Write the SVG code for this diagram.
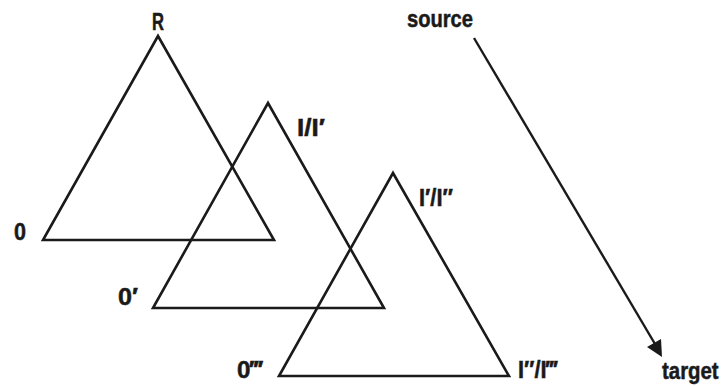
<svg xmlns="http://www.w3.org/2000/svg" width="727" height="386" viewBox="0 0 727 386">
<style>
.tri{fill:none;stroke:#1a1a1a;stroke-width:2.6;stroke-linejoin:miter}
.lbl{font-family:"Liberation Sans Narrow","Liberation Sans",Arial,sans-serif;font-weight:bold;font-size:24px;fill:#1a1a1a;stroke:#1a1a1a;stroke-width:0.5}
.conn{stroke:#1a1a1a;stroke-width:2.4;fill:none}
.head{fill:#1a1a1a}
</style>
<rect width="727" height="386" fill="#ffffff"/>
<g id="triangle1">
<polygon class="tri" points="158,36 43,240 274,240"/>
<text class="lbl" x="152" y="30" textLength="12" lengthAdjust="spacingAndGlyphs">R</text>
<text class="lbl" x="14" y="240" textLength="12" lengthAdjust="spacingAndGlyphs">0</text>
</g>
<g id="triangle2">
<polygon class="tri" points="268,103 153,308 384,308"/>
<text class="lbl" x="297" y="136" textLength="28" lengthAdjust="spacingAndGlyphs">I/I′</text>
<text class="lbl" x="118" y="305" textLength="20" lengthAdjust="spacingAndGlyphs">0′</text>
</g>
<g id="triangle3">
<polygon class="tri" points="393,173 279,376 509,376"/>
<text class="lbl" x="419" y="206" textLength="34" lengthAdjust="spacingAndGlyphs">I′/I″</text>
<text class="lbl" x="237" y="378" textLength="25" lengthAdjust="spacingAndGlyphs">0‴</text>
<text class="lbl" x="518" y="378" textLength="39" lengthAdjust="spacingAndGlyphs">I″/I‴</text>
</g>
<g id="connectors">
<line class="conn" x1="474" y1="38" x2="655" y2="344"/>
<polygon class="head" points="662,357 647,347 661,339"/>
</g>
<g id="source">
<text class="lbl" x="407" y="27" textLength="66" lengthAdjust="spacingAndGlyphs">source</text>
</g>
<g id="target">
<text class="lbl" transform="translate(662,379) scale(0.85,1)">target</text>
</g>
</svg>
